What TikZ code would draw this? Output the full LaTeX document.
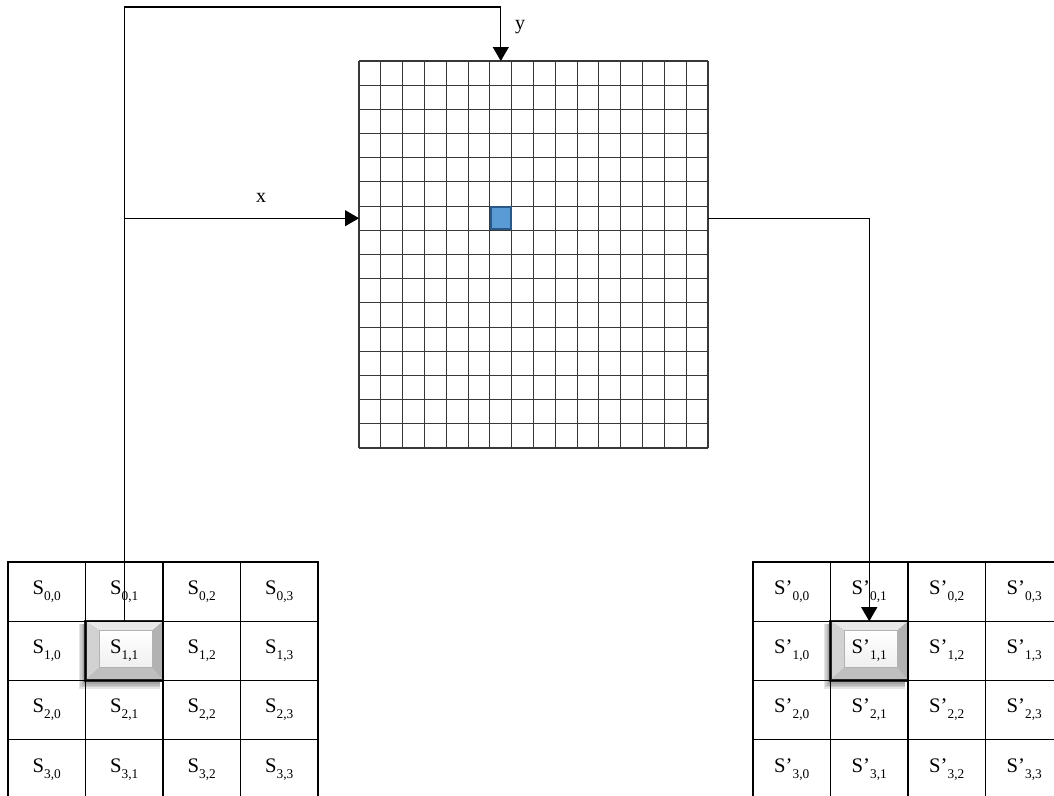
\documentclass[tikz,border=0pt]{standalone}
\usepackage{fontspec}
\setmainfont{Liberation Serif}
\usetikzlibrary{arrows.meta,positioning,calc,backgrounds}
\definecolor{cellblue}{HTML}{5B9BD5}
\definecolor{celledge}{HTML}{2A5987}
\definecolor{gridgray}{HTML}{383838}

\newcommand{\Sidx}[2]{S\raisebox{-4.5pt}{\fontsize{10}{10}\selectfont #1,#2}}
\newcommand{\Tidx}[2]{S’\raisebox{-4.5pt}{\fontsize{10}{10}\selectfont #1,#2}}
% raised button look of one cell
\newcommand{\pressbtn}[1]{%
  \begin{scope}[on background layer]
    \foreach \k in {1,...,5}
      \fill[black,opacity=0.1] ($(#1.north west)+(-\k*1pt,-2pt)$) rectangle ($(#1.south east)+(-2pt,-\k*1.3pt)$);
    \coordinate (#1a) at ($(#1.north west)+(10.5pt,-7pt)$);
    \coordinate (#1b) at ($(#1.north east)+(-8pt,-7pt)$);
    \coordinate (#1c) at ($(#1.south east)+(-8pt,10pt)$);
    \coordinate (#1d) at ($(#1.south west)+(10.5pt,10pt)$);
    \fill[gray!18] (#1.north west) -- (#1.north east) -- (#1b) -- (#1a) -- cycle;
    \fill[gray!35] (#1.north west) -- (#1a) -- (#1d) -- (#1.south west) -- cycle;
    \fill[gray!60] (#1.north east) -- (#1b) -- (#1c) -- (#1.south east) -- cycle;
    \fill[gray!50] (#1.south west) -- (#1d) -- (#1c) -- (#1.south east) -- cycle;
    \shade[top color=white,bottom color=gray!12] (#1a) rectangle (#1c);
    \draw[gray!60,line width=0.4pt] (#1a) rectangle (#1c);
    \draw[black!85,line width=1.8pt] (#1.north west) rectangle (#1.south east);
  \end{scope}}

\begin{document}
\begin{tikzpicture}[x=0.75pt,y=-0.75pt,
  cellbox/.style={draw,line width=0.8pt,minimum width=58.1pt,minimum height=44.4pt,
    inner sep=0pt,outer sep=0pt,font=\fontsize{15.5}{18}\selectfont},
  gridline/.style={gridgray,line width=0.8pt},
  link/.style={line width=0.8pt,-{Triangle[length=10.5pt,width=12pt]}},
  lbl/.style={font=\fontsize{15}{18}\selectfont}]
\useasboundingbox (0,0) rectangle (1054,796);

% pixel grid
\node[minimum width=261.75pt,minimum height=290.25pt,inner sep=0pt,outer sep=0pt] (grid) at (533.5,254.5) {};
\foreach \i in {0,...,16} {
  \draw[gridline] ($(grid.north west)!\i/16!(grid.north east)$) -- ($(grid.south west)!\i/16!(grid.south east)$);
  \draw[gridline] ($(grid.north west)!\i/16!(grid.south west)$) -- ($(grid.north east)!\i/16!(grid.south east)$);
}
\node[fill=cellblue,draw=celledge,line width=1.6pt,minimum width=15pt,minimum height=16.8pt,inner sep=0pt] (px) at (500.8,218.2) {};

% state matrices
\foreach \i in {0,...,3}
  \foreach \j in {0,...,3} {
    \node[cellbox] (s\i\j) at (46.75+77.5*\j,591.6+59.2*\i) {\Sidx{\i}{\j}};
    \node[cellbox] (t\i\j) at (791.75+77.5*\j,591.6+59.2*\i) {\Tidx{\i}{\j}};
  }
\pressbtn{s11}
\pressbtn{t11}

% connectors
\coordinate (ytop) at (500.8,7);
\draw[link] (s11.north) |- (ytop) -- (px |- grid.north);
\draw[link] (s11.north |- px) -- (grid.west |- px);
\draw[link] (grid.east |- px) -| (t11.north);
\node[lbl] (ylab) at (520,27) {y};
\node[lbl] (xlab) at (261,198) {x};
\end{tikzpicture}
\end{document}
